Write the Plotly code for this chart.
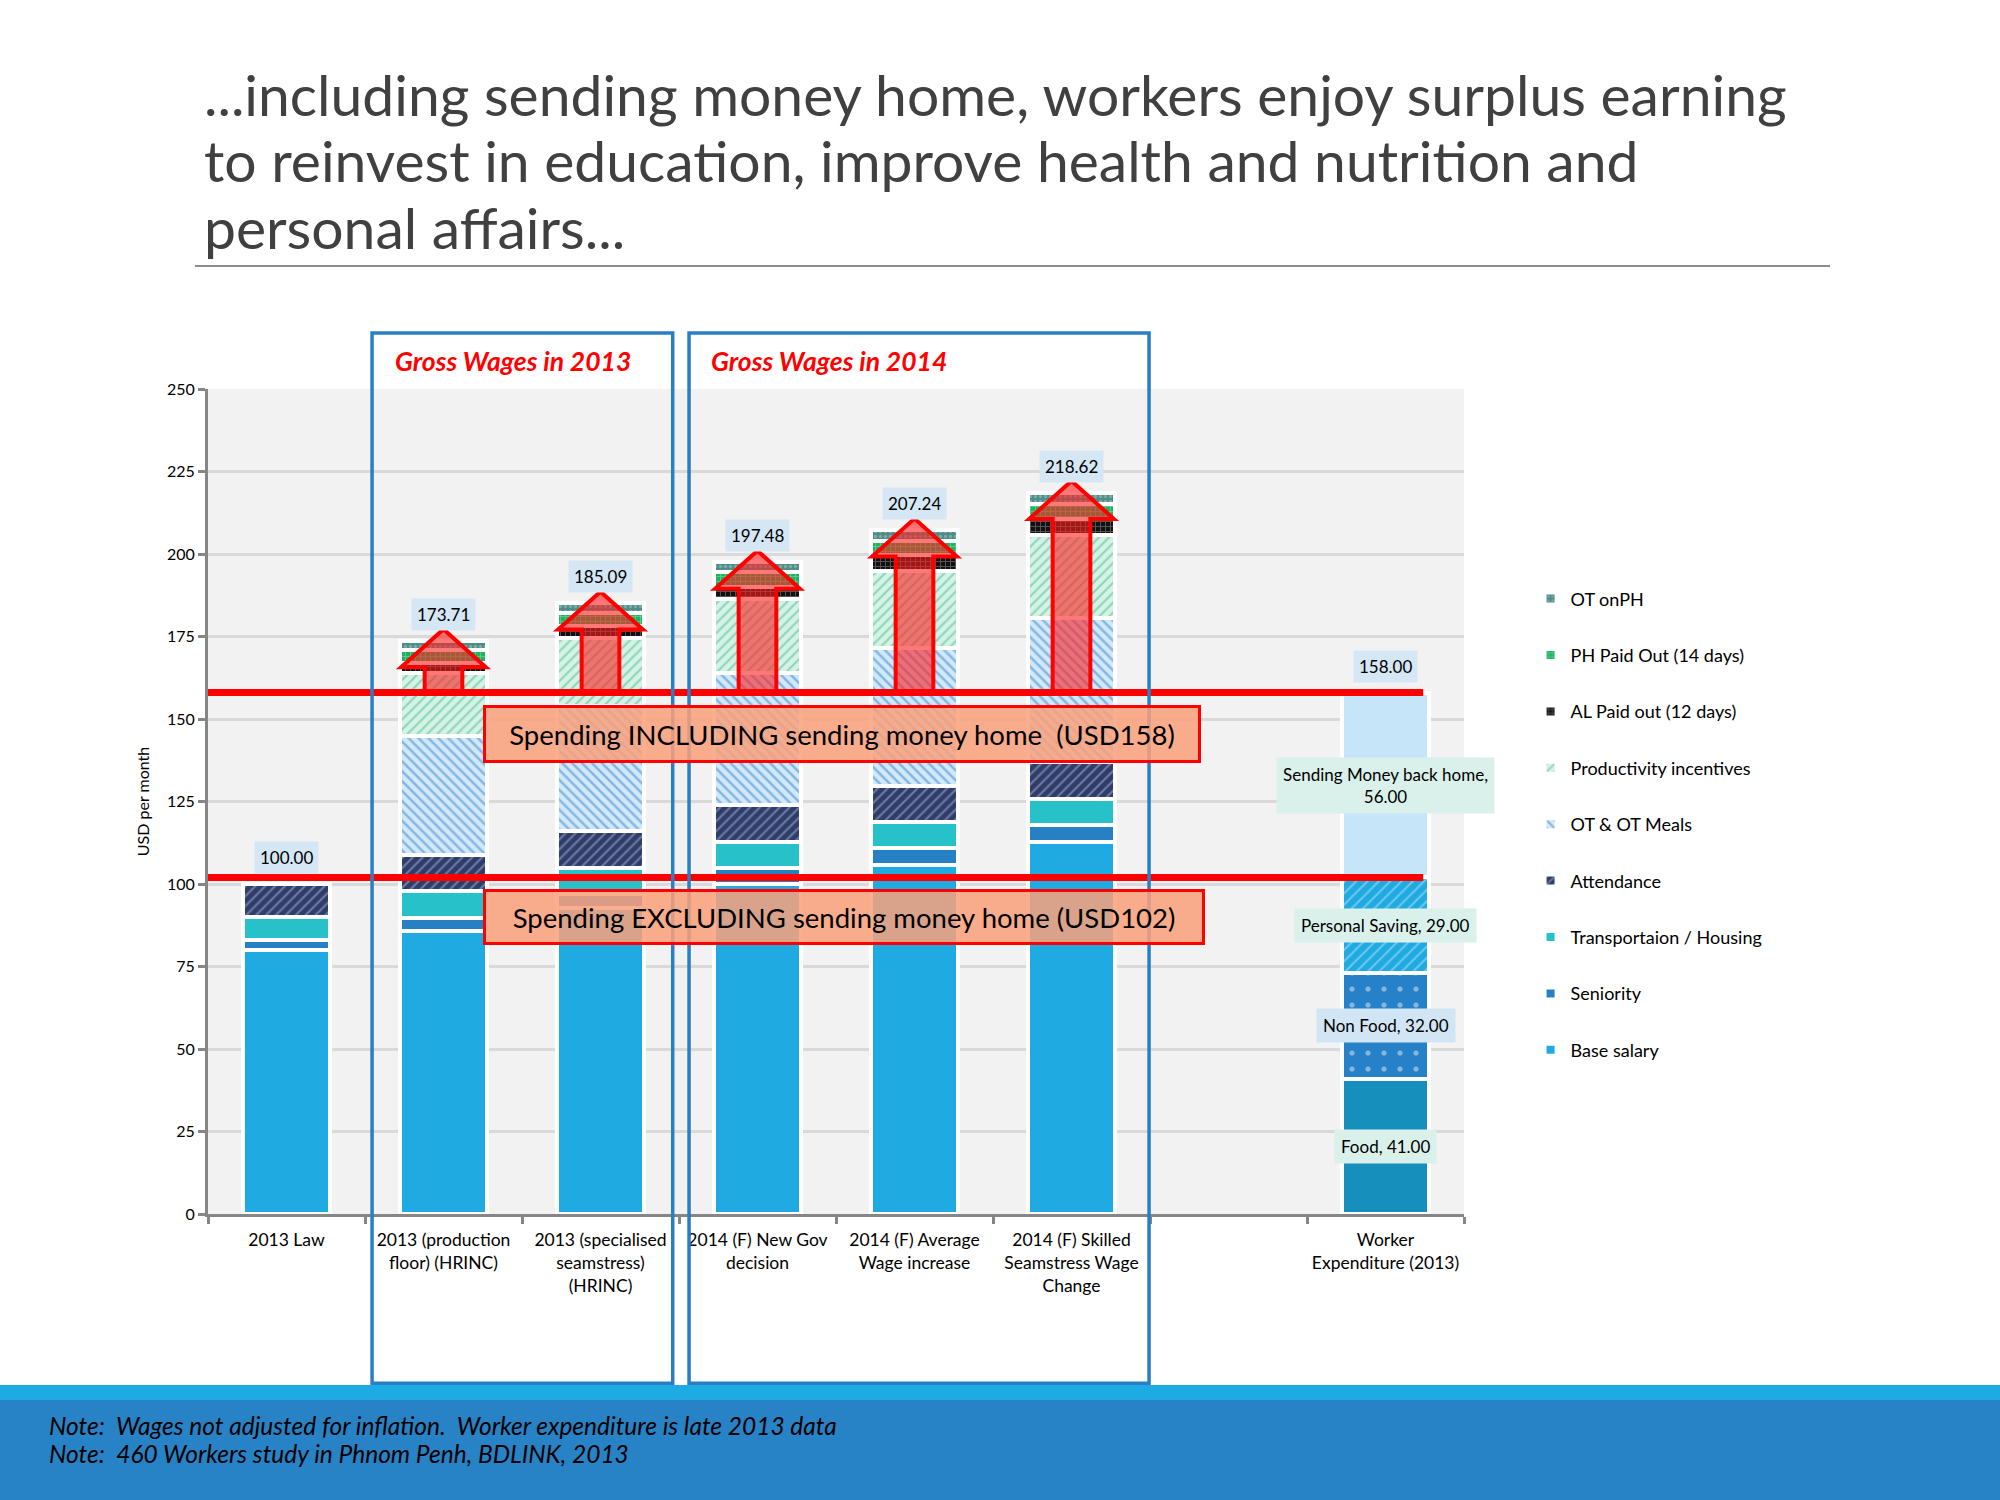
import plotly.graph_objects as go

# ---------------- data ----------------
categories = ["2013 Law", "2013 (production<br>floor) (HRINC)",
              "2013 (specialised<br>seamstress)<br>(HRINC)",
              "2014 (F) New Gov<br>decision", "2014 (F) Average<br>Wage increase",
              "2014 (F) Skilled<br>Seamstress Wage<br>Change", "",
              "Worker<br>Expenditure (2013)"]

base_salary = [80, 85.8, 92.8, 100, 105.8, 112.7]
seniority = [3, 3.9, 4.1, 4.9, 5.1, 5.1]
transport_housing = [7, 8.1, 7.9, 7.8, 7.9, 8.1]
attendance = [10, 11.1, 11.2, 11.2, 11.0, 11.1]
ot_meals = [0, 35.8, 38.0, 39.9, 41.6, 43.5]
productivity = [0, 19.3, 20.5, 22.5, 23.6, 25.3]
al_paid = [0, 3.1, 3.6, 3.8, 4.7, 4.7]
ph_paid = [0, 3.9, 4.1, 4.3, 4.3, 4.7]
ot_on_ph = [0, 2.71, 2.89, 3.08, 3.24, 3.42]
gross_totals = [100.00, 173.71, 185.09, 197.48, 207.24, 218.62]

exp_labels = ["Food", "Non Food", "Personal Saving", "Sending Money back home"]
exp_values = [41, 32, 29, 56]
exp_total = 158.00

spending_incl = 158
spending_excl = 102

series_names = ["Base salary", "Seniority", "Transportaion / Housing", "Attendance",
                "OT & OT Meals", "Productivity incentives", "AL Paid out (12 days)",
                "PH Paid Out (14 days)", "OT onPH"]
series_values = [base_salary, seniority, transport_housing, attendance, ot_meals,
                 productivity, al_paid, ph_paid, ot_on_ph]

title_lines = ["...including sending money home, workers enjoy surplus earning",
               "to reinvest in education, improve health and nutrition and",
               "personal affairs..."]
notes = ["Note:  Wages not adjusted for inflation.  Worker expenditure is late 2013 data",
         "Note:  460 Workers study in Phnom Penh, BDLINK, 2013"]

# ---------------- styles ----------------
FONT = "Lato"
series_style = [
    dict(color="#1FABE2"),
    dict(color="#2880C4"),
    dict(color="#27C2C9"),
    dict(color="#2F3D6B", pattern=dict(shape="/", fgcolor="#AEB7D3", bgcolor="#2F3D6B", size=7, solidity=0.3)),
    dict(color="#D3E8F8", pattern=dict(shape="\\", fgcolor="#2E86D4", bgcolor="#D3E8F8", size=7, solidity=0.35)),
    dict(color="#D6F1E6", pattern=dict(shape="/", fgcolor="#3CBF8A", bgcolor="#D6F1E6", size=7, solidity=0.3)),
    dict(color="#111111", pattern=dict(shape="+", fgcolor="#9A9A9A", bgcolor="#111111", size=5, solidity=0.35)),
    dict(color="#1DB35F", pattern=dict(shape="+", fgcolor="#A8E6C0", bgcolor="#1DB35F", size=5, solidity=0.3)),
    dict(color="#4E8C86", pattern=dict(shape=".", fgcolor="#A8CCC8", bgcolor="#4E8C86", size=5, solidity=0.35)),
]
exp_style = [
    dict(color="#178FBC"),
    dict(color="#2781C6", pattern=dict(shape=".", fgcolor="#DDEBF7", bgcolor="#2781C6", size=16, solidity=0.08)),
    dict(color="#1FAAE2", pattern=dict(shape="/", fgcolor="#BFE6F7", bgcolor="#1FAAE2", size=8, solidity=0.25)),
    dict(color="#C6E5F9"),
]
exp_label_bg = ["#DAF0EA", "#D2E5F5", "#DAF0EA", "#DAF0EA"]

BAR_W = 0.56
wage_x = list(range(len(base_salary)))
exp_x = len(categories) - 1
n_series = len(series_names)

fig = go.Figure()
for k, (name, vals, st) in enumerate(zip(series_names, series_values, series_style)):
    marker = dict(color=st["color"], line=dict(color="white", width=4))
    if "pattern" in st:
        marker["pattern"] = st["pattern"]
    fig.add_trace(go.Bar(
        x=wage_x, y=[v if v else None for v in vals], name=name, width=BAR_W,
        marker=marker, legendgroup=name, legendrank=n_series - k, hoverinfo="skip"))

for lab, val, st in zip(exp_labels, exp_values, exp_style):
    marker = dict(color=st["color"], line=dict(color="white", width=4))
    if "pattern" in st:
        marker["pattern"] = st["pattern"]
    fig.add_trace(go.Bar(x=[exp_x], y=[val], name=lab, width=BAR_W, marker=marker,
                         showlegend=False, hoverinfo="skip"))

shapes = []
annotations = []

# red arrows from the spending line up to each bar top
for i, tot in enumerate(gross_totals):
    if tot <= spending_incl:
        continue
    tip = tot + 3.5
    hb = tip - 11.5
    sw, hw = 0.12, 0.27
    path = (f"M {i-sw},{spending_incl} L {i-sw},{hb} L {i-hw},{hb} L {i},{tip} "
            f"L {i+hw},{hb} L {i+sw},{hb} L {i+sw},{spending_incl} Z")
    shapes.append(dict(type="path", path=path, xref="x", yref="y",
                       fillcolor="rgba(255,30,30,0.6)", line=dict(color="#FF0000", width=4),
                       layer="above"))

# spending lines
for yv in (spending_incl, spending_excl):
    shapes.append(dict(type="line", xref="x", yref="y", x0=-0.5, x1=exp_x + 0.24,
                       y0=yv, y1=yv, line=dict(color="#FF0000", width=7), layer="above"))

# gross wages frames
frame_col = "#2A7FC4"
shapes.append(dict(type="rect", xref="x", yref="paper", x0=0.545, x1=2.46, y0=-0.205, y1=1.068,
                   line=dict(color=frame_col, width=3.5), layer="above"))
shapes.append(dict(type="rect", xref="x", yref="paper", x0=2.564, x1=5.494, y0=-0.205, y1=1.068,
                   line=dict(color=frame_col, width=3.5), layer="above"))

# footer bands
shapes.append(dict(type="rect", xref="paper", yref="paper", x0=-0.2, x1=1.5, y0=-0.2255, y1=-0.2073,
                   fillcolor="#1EAAE2", line=dict(width=0), layer="below"))
shapes.append(dict(type="rect", xref="paper", yref="paper", x0=-0.2, x1=1.5, y0=-0.36, y1=-0.2255,
                   fillcolor="#2882C6", line=dict(width=0), layer="below"))
# title underline
shapes.append(dict(type="line", xref="paper", yref="paper", x0=-0.0104, x1=1.2914, y0=1.149, y1=1.149,
                   line=dict(color="#8C8C8C", width=2)))

# total labels
for i, tot in enumerate(gross_totals):
    annotations.append(dict(x=i, y=tot, xref="x", yref="y", text=f"{tot:.2f}", showarrow=False,
                            yanchor="bottom", yshift=10, bgcolor="#D5E6F5", borderpad=5,
                            font=dict(family=FONT, size=17, color="black")))
annotations.append(dict(x=exp_x, y=exp_total, xref="x", yref="y", text=f"{exp_total:.2f}",
                        showarrow=False, yanchor="bottom", yshift=10, bgcolor="#D5E6F5", borderpad=5,
                        font=dict(family=FONT, size=17, color="black")))

# worker expenditure labels
cum = 0
for lab, val, bg in zip(exp_labels, exp_values, exp_label_bg):
    mid = cum + val / 2
    cum += val
    txt = f"{lab},<br>{val:.2f}" if len(lab) > 16 else f"{lab}, {val:.2f}"
    annotations.append(dict(x=exp_x, y=mid, xref="x", yref="y", text=txt, showarrow=False,
                            bgcolor=bg, borderpad=6, font=dict(family=FONT, size=17, color="black")))

# spending boxes
annotations.append(dict(x=3.541, y=145.45, xref="x", yref="y",
                        text=f"Spending INCLUDING sending money home  (USD{spending_incl})",
                        showarrow=False, width=712, height=52, bgcolor="rgba(250,160,122,0.85)",
                        bordercolor="#FF0000", borderwidth=3, borderpad=0,
                        font=dict(family=FONT, size=27.5, color="black")))
annotations.append(dict(x=3.554, y=90.0, xref="x", yref="y",
                        text=f"Spending EXCLUDING sending money home (USD{spending_excl})",
                        showarrow=False, width=716, height=50, bgcolor="rgba(250,160,122,0.85)",
                        bordercolor="#FF0000", borderwidth=3, borderpad=0,
                        font=dict(family=FONT, size=27.5, color="black")))

# gross wages titles
for xv, yr in ((0.68, 2013), (2.69, 2014)):
    annotations.append(dict(x=xv, y=1.034, xref="x", yref="paper", text=f"<b><i>Gross Wages in {yr}</i></b>",
                            showarrow=False, xanchor="left", yanchor="middle",
                            font=dict(family=FONT, size=26.5, color="#FF0000")))

# slide title
for line, yp in zip(title_lines, (1.358, 1.277, 1.196)):
    annotations.append(dict(x=-0.0048, y=yp, xref="paper", yref="paper", xanchor="left", yanchor="middle",
                            align="left", showarrow=False, text=line,
                            font=dict(family=FONT, size=57, color="#404040")))

# notes
for line, yp in zip(notes, (-0.2558, -0.2909)):
    annotations.append(dict(x=-0.128, y=yp, xref="paper", yref="paper", xanchor="left", yanchor="middle",
                            align="left", showarrow=False, text=f"<i>{line}</i>",
                            font=dict(family=FONT, size=24.5, color="black")))

fig.update_layout(
    width=2000, height=1500,
    margin=dict(l=208, r=536, t=389, b=286),
    paper_bgcolor="white", plot_bgcolor="#F2F2F2",
    barmode="stack",
    font=dict(family=FONT, size=17, color="black"),
    showlegend=True,
    legend=dict(x=1.053, y=0.768, xanchor="left", yanchor="top", traceorder="grouped",
                tracegroupgap=30, font=dict(family=FONT, size=18, color="black"),
                bgcolor="rgba(0,0,0,0)", itemwidth=30),
    shapes=shapes, annotations=annotations,
)
fig.update_xaxes(range=[-0.5, len(categories) - 0.5], tickmode="array",
                 tickvals=list(range(len(categories))), ticktext=categories,
                 ticks="", showgrid=False, zeroline=False, ticklabelstandoff=8,
                 showline=True, linecolor="#868686", linewidth=3,
                 tickfont=dict(family=FONT, size=17.5, color="black"),
                 minor=dict(tickmode="linear", tick0=-0.5, dtick=1, ticks="outside", ticklen=7,
                            tickwidth=3, tickcolor="#868686", showgrid=False))
fig.update_yaxes(range=[0, 250], dtick=25, showgrid=True, gridcolor="#D9D9D9", gridwidth=3,
                 zeroline=False, showline=True, linecolor="#868686", linewidth=3,
                 ticks="outside", ticklen=7, tickwidth=3, tickcolor="#868686",
                 tickfont=dict(family=FONT, size=16, color="black"),
                 title=dict(text="USD per month", standoff=14, font=dict(family=FONT, size=16)))

fig.write_html("out.html")
